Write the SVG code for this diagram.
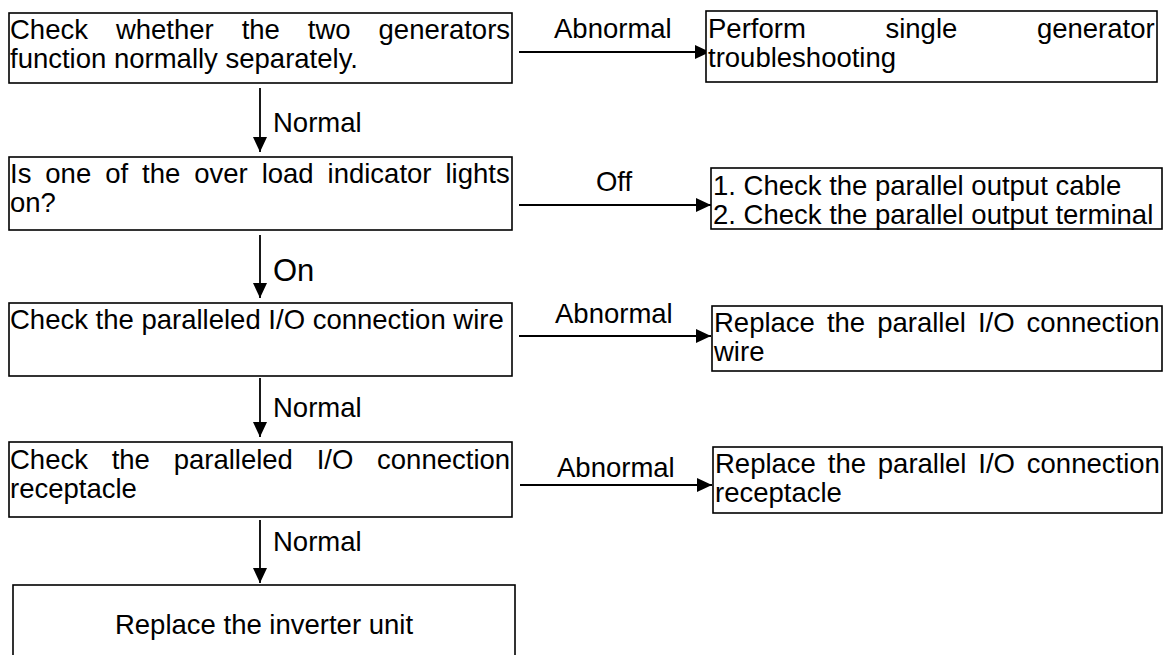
<svg xmlns="http://www.w3.org/2000/svg" width="1172" height="655" viewBox="0 0 1172 655">
  <style>
    .box { fill: #fff; stroke: #000; stroke-width: 1.6; }
    .txt { font-family: "Liberation Sans", Arial, sans-serif; font-size: 27.5px; fill: #000; }
    .lbl { font-family: "Liberation Sans", Arial, sans-serif; font-size: 27.5px; fill: #000; }
    .link { stroke: #000; stroke-width: 1.8; fill: none; marker-end: url(#head); }
  </style>
  <defs>
    <marker id="head" viewBox="0 0 15 14" refX="15" refY="7" markerWidth="15" markerHeight="14" markerUnits="userSpaceOnUse" orient="auto">
      <path d="M0,0 L15,7 L0,14 Z" fill="#000"/>
    </marker>
  </defs>
  <rect width="1172" height="655" fill="#fff"/>

  <!-- connectors -->
  <g id="connectors">
    <line class="link" x1="519" y1="52" x2="710" y2="52"/>
    <text class="lbl" x="554" y="38">Abnormal</text>
    <line class="link" x1="260" y1="88" x2="260" y2="152"/>
    <text class="lbl" x="273" y="132">Normal</text>

    <line class="link" x1="519" y1="205" x2="711" y2="205"/>
    <text class="lbl" x="614" y="191" text-anchor="middle">Off</text>
    <line class="link" x1="260" y1="235" x2="260" y2="298"/>
    <text class="lbl" x="273" y="281" style="font-size:31px">On</text>

    <line class="link" x1="519" y1="336" x2="711" y2="336"/>
    <text class="lbl" x="555" y="323">Abnormal</text>
    <line class="link" x1="260" y1="378" x2="260" y2="437"/>
    <text class="lbl" x="273" y="417">Normal</text>

    <line class="link" x1="520" y1="485" x2="712" y2="485"/>
    <text class="lbl" x="557" y="477">Abnormal</text>
    <line class="link" x1="260" y1="520" x2="260" y2="583"/>
    <text class="lbl" x="273" y="551">Normal</text>
  </g>

  <!-- step 1 -->
  <g id="check-generators">
    <rect class="box" x="9" y="13" width="503" height="70"/>
    <text class="txt" x="10" y="39" word-spacing="20.3">Check whether the two generators</text>
    <text class="txt" x="10" y="68">function normally separately.</text>
  </g>
  <g id="single-troubleshooting">
    <rect class="box" x="706" y="11" width="451" height="71"/>
    <text class="txt" x="708" y="38" word-spacing="72">Perform single generator</text>
    <text class="txt" x="708" y="67">troubleshooting</text>
  </g>

  <!-- step 2 -->
  <g id="overload-light">
    <rect class="box" x="9" y="157" width="503" height="73"/>
    <text class="txt" x="10" y="183" word-spacing="6.3">Is one of the over load indicator lights</text>
    <text class="txt" x="10" y="212">on?</text>
  </g>
  <g id="output-cable">
    <rect class="box" x="711" y="168" width="451" height="61"/>
    <text class="txt" x="713" y="195">1. Check the parallel output cable</text>
    <text class="txt" x="713" y="224">2. Check the parallel output terminal</text>
  </g>

  <!-- step 3 -->
  <g id="check-wire">
    <rect class="box" x="9" y="303" width="503" height="73"/>
    <text class="txt" x="10" y="329">Check the paralleled I/O connection wire</text>
  </g>
  <g id="replace-wire">
    <rect class="box" x="712" y="306" width="450" height="65"/>
    <text class="txt" x="714" y="332" word-spacing="4.4">Replace the parallel I/O connection</text>
    <text class="txt" x="714" y="361">wire</text>
  </g>

  <!-- step 4 -->
  <g id="check-receptacle">
    <rect class="box" x="9" y="442" width="503" height="75"/>
    <text class="txt" x="10" y="469" word-spacing="16.1">Check the paralleled I/O connection</text>
    <text class="txt" x="10" y="498">receptacle</text>
  </g>
  <g id="replace-receptacle">
    <rect class="box" x="713" y="447" width="449" height="66"/>
    <text class="txt" x="715" y="473" word-spacing="4.2">Replace the parallel I/O connection</text>
    <text class="txt" x="715" y="502">receptacle</text>
  </g>

  <!-- final step -->
  <g id="replace-inverter">
    <rect class="box" x="13" y="585" width="502" height="90"/>
    <text class="txt" x="264" y="634" text-anchor="middle">Replace the inverter unit</text>
  </g>
</svg>
